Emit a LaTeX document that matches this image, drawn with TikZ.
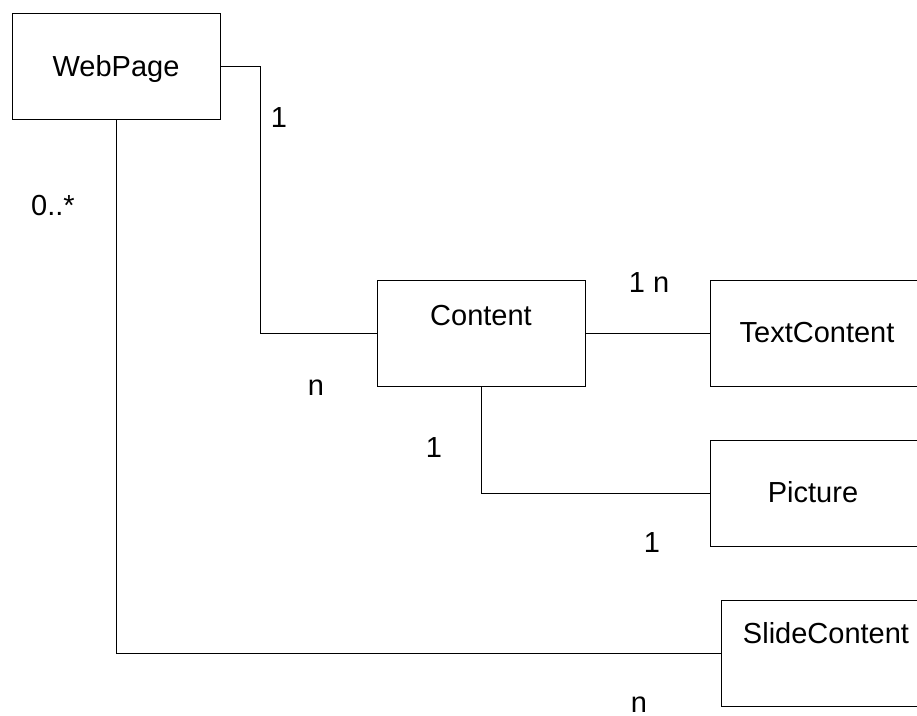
\documentclass[tikz,border=0pt]{standalone}
\usepackage{fontspec}
\setmainfont{Liberation Sans}
\begin{document}
\begin{tikzpicture}[x=1pt, y=-1pt, line width=1.2pt,
  classbox/.style={draw, rectangle, minimum width=#1, minimum height=106pt,
    inner sep=0pt, anchor=north west},
  classbox/.default=208pt,
  classname/.style={anchor=base, inner sep=0pt, font=\fontsize{29pt}{34pt}\selectfont},
  mult/.style={anchor=base, inner sep=0pt, font=\fontsize{29pt}{34pt}\selectfont},
  assoc/.style={draw, line width=1.2pt}
]
\useasboundingbox (0,0) rectangle (917,715);
\clip (0,0) rectangle (917,715);

% class boxes
\node[classbox] (web) at (12,13) {};
\node[classbox] (content) at (377,280) {};
\node[classbox=215pt] (textc) at (710,280) {};
\node[classbox=215pt] (pic) at (710,440) {};
\node[classbox=215pt] (slide) at (721,600) {};

% class names
\node[classname] (webname) at (116,76) {WebPage};
\node[classname] (contentname) at (481,325) {Content};
\node[classname] (textname) at (817,342) {TextContent};
\node[classname] (picname) at (813,502) {Picture};
\node[classname] (slidename) at (826,643) {SlideContent};

% associations
\draw[assoc] (web.east) -- ++(39,0) |- (content.west);
\draw[assoc] (content.east) -- (textc.west);
\draw[assoc] (content.south) |- (pic.west);
\draw[assoc] (web.south) |- (slide.west);

% multiplicities
\node[mult] (m1) at (279,127) {1};
\node[mult] (m2) at (53,215) {0..*};
\node[mult] (m3) at (316,395) {n};
\node[mult] (m4) at (649,292) {1 n};
\node[mult] (m5) at (434,457) {1};
\node[mult] (m6) at (652,552) {1};
\node[mult] (m7) at (639,712) {n};
\end{tikzpicture}
\end{document}
